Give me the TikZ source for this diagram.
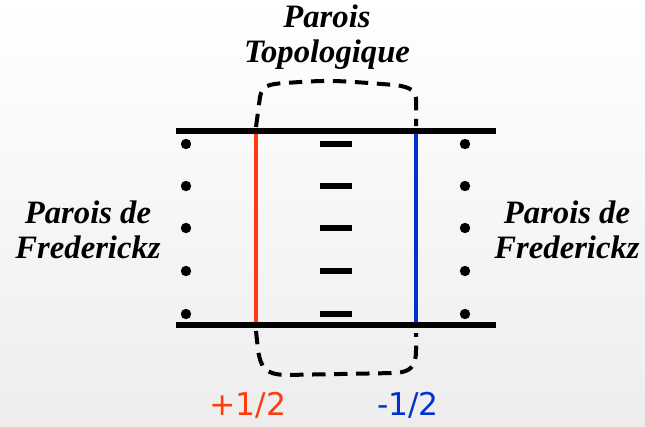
\documentclass[tikz,border=0pt]{standalone}
\usepackage{fontspec}
\setmainfont{Liberation Serif}
\newfontfamily\lblfont{DejaVu Sans}
\usetikzlibrary{positioning}

\definecolor{wallred}{RGB}{255,60,10}
\definecolor{wallblue}{RGB}{0,50,205}

\begin{document}
\begin{tikzpicture}[
    x=0.75pt, y=-0.75pt,
    title/.style  ={font=\fontsize{24.5}{26}\selectfont\bfseries\itshape, align=center, inner sep=0pt},
    charge/.style ={font=\lblfont\fontsize{23.5}{26}\selectfont, inner sep=0pt},
    plate/.style  ={line width=4pt},
    wall/.style   ={line width=2.6pt},
    loop/.style   ={line width=3pt, dash pattern=on 10pt off 6.5pt},
    molec/.style  ={line width=4pt},
    dotm/.style   ={fill=black, draw=none},
]

% ============================================================
% BACKGROUND
% ============================================================
\shade[top color=white, bottom color=black!7] (0,0) rectangle (645,426);
\useasboundingbox (0,0) rectangle (645,426);

% ============================================================
% PLATES AND WALLS
% ============================================================
\coordinate (tl) at (176,131);
\coordinate (tr) at (496,131);
\coordinate (bl) at (176,325);
\coordinate (br) at (496,325);
\coordinate (redtop) at (256,131);
\coordinate (redbot) at (256,325);
\coordinate (bluetop) at (416,131);
\coordinate (bluebot) at (416,325);

\draw[wall, wallred]  (redtop)  -- (redbot);
\draw[wall, wallblue] (bluetop) -- (bluebot);
\draw[plate] (tl) -- (tr);
\draw[plate] (bl) -- (br);

% molecules: dots (Fredericksz) and dashes (topological)
\foreach \y in {144,186,228,271,314} {
    \fill[dotm] (186,\y) circle (3.9pt);
    \fill[dotm] (465,\y) circle (3.9pt);
    \draw[molec] (320,\y) -- (352,\y);
}

% ============================================================
% DASHED LOOP round the topological wall
% ============================================================
\draw[loop] (256,127) -- (260,97) .. controls (262,86) and (268,84) .. (285,83)
    .. controls (330,80) .. (395,85) .. controls (412,87) and (416,92) .. (416,100) -- (416,126);
\draw[loop] (256,331) -- (258,350) .. controls (261,368) and (265,374) .. (285,375)
    -- (395,373) .. controls (412,372) and (416,365) .. (416,350) -- (416,333);

% ============================================================
% LABELS
% ============================================================
\node[title] (topo)  at (327,37)  {Parois\\Topologique};
\node[title] (fredl) at (88,230)  {Parois de\\Frederickz};
\node[title] (fredr) at (567,230) {Parois de\\Frederickz};
\node[charge, wallred]  (plus)  at (248,405) {+1/2};
\node[charge, wallblue] (minus) at (408,405) {-1/2};

\end{tikzpicture}
\end{document}
